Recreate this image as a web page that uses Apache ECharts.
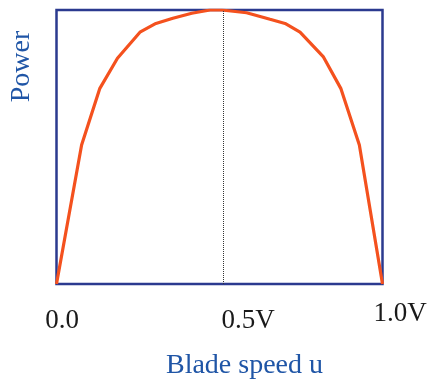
<!DOCTYPE html>
<html>
<head>
<meta charset="utf-8">
<style>html,body{margin:0;padding:0;background:#fff;}#c{width:427px;height:383px;}</style>
<script src="https://cdn.jsdelivr.net/npm/echarts@6/dist/echarts.min.js"></script>
</head>
<body>
<div id="c"></div>
<script>
var bladeSpeed = [0, 0.077, 0.133, 0.187, 0.256, 0.305, 0.357, 0.415, 0.471, 0.507, 0.583, 0.655, 0.701, 0.747, 0.818, 0.872, 0.929, 1.0];
var power      = [0, 0.507, 0.714, 0.824, 0.919, 0.951, 0.970, 0.988, 1.0, 1.0, 0.990, 0.966, 0.951, 0.919, 0.830, 0.714, 0.507, 0];
var tickLabels = {0: '{a|0.0}', 0.5: '{b|0.5V}', 1: '{c|1.0V}'};
var optimumSpeed = 0.505;

var serif = '"Liberation Serif", "Times New Roman", serif';
var chart = echarts.init(document.getElementById('c'));
chart.setOption({
  animation: false,
  grid: {left: 56.5, right: 44.5, top: 10, bottom: 99, outerBoundsMode: 'none', containLabel: false, show: true, borderColor: '#2b3a8f', borderWidth: 2.5, backgroundColor: 'transparent'},
  xAxis: {
    type: 'value', min: 0, max: 1, interval: 0.5,
    axisLine: {show: false}, axisTick: {show: false}, splitLine: {show: false},
    axisLabel: {
      margin: 21, showMaxLabel: true, showMinLabel: true,
      formatter: function (v) { return tickLabels[v] || ''; },
      rich: {
        a: {fontFamily: serif, fontSize: 27, color: '#1a1a1a', lineHeight: 31, padding: [0, 0, 0, 11]},
        b: {fontFamily: serif, fontSize: 27, color: '#1a1a1a', lineHeight: 31, padding: [0, 0, 0, 57]},
        c: {fontFamily: serif, fontSize: 27, color: '#1a1a1a', lineHeight: 31, padding: [0, 0, 14, 35]}
      }
    },
    name: 'Blade speed u', nameLocation: 'middle', nameGap: 68,
    nameTextStyle: {fontFamily: serif, fontSize: 28, color: '#1f55a6', padding: [0, 0, 0, 50]}
  },
  yAxis: {
    type: 'value', min: 0, max: 1,
    axisLine: {show: false}, axisTick: {show: false}, splitLine: {show: false}, axisLabel: {show: false},
    name: 'Power', nameLocation: 'middle', nameGap: 21, nameRotate: 90,
    nameTextStyle: {fontFamily: serif, fontSize: 28, color: '#1f55a6', padding: [0, 0, 0, 161]}
  },
  series: [{
    type: 'line',
    data: bladeSpeed.map(function (x, i) { return [x, power[i]]; }),
    symbol: 'none',
    lineStyle: {color: '#f4511e', width: 3.2},
    markLine: {
      silent: true, symbol: 'none', label: {show: false},
      lineStyle: {color: '#333', width: 1, type: 'dotted'},
      data: [{xAxis: optimumSpeed}]
    }
  }]
});
</script>
</body>
</html>
